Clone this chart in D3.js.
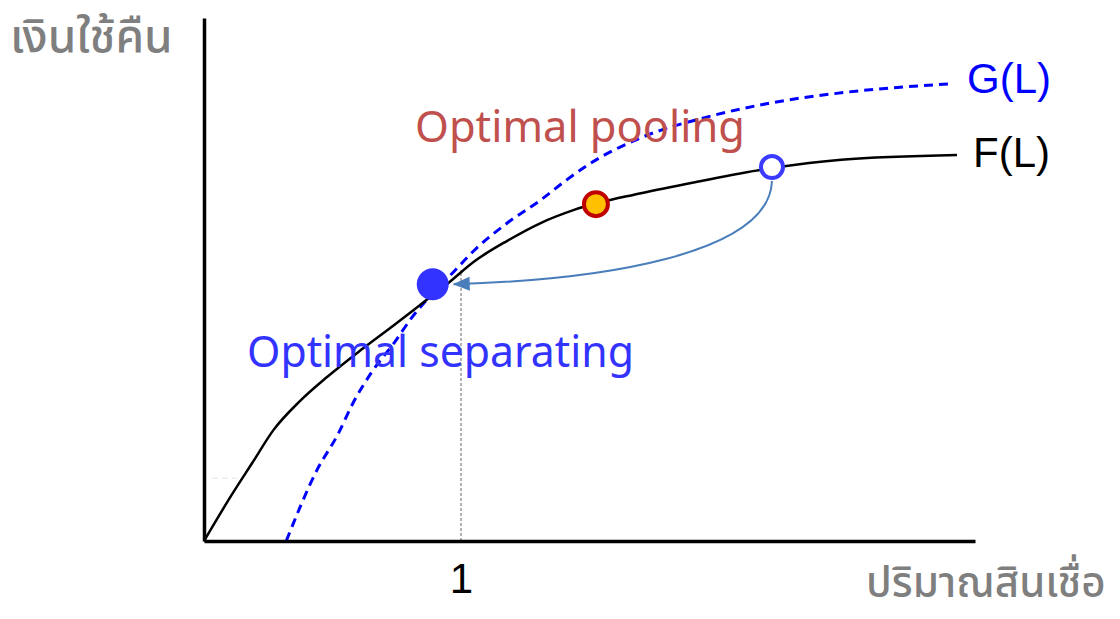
<!DOCTYPE html>
<html>
<head>
<meta charset="utf-8">
<script src="https://cdn.jsdelivr.net/npm/d3@7"></script>
<style>
  html, body { margin: 0; padding: 0; background: #fff; }
  svg { display: block; }
</style>
</head>
<body>
<svg id="chart"></svg>
<script>
// ข้อมูลเส้นโค้ง (อ่านค่าจากภาพ)
const fL = [0, 0.11, 0.19, 0.27, 0.37, 0.48, 0.61, 0.74, 0.84, 0.95, 1.05, 1.18, 1.31, 1.44, 1.70, 1.93, 2.21, 2.48, 2.93];
const fV = [0, 9.0, 15.1, 21.2, 26.6, 31.4, 36.5, 41.3, 45.1, 49.3, 53.4, 57.4, 60.8, 63.3, 66.5, 68.8, 71.3, 72.9, 73.8];

const gL = [0.32, 0.44, 0.52, 0.58, 0.65, 0.74, 0.81, 0.89, 0.97, 1.05, 1.18, 1.31, 1.41, 1.50, 1.70, 1.96, 2.21, 2.48, 2.90];
const gV = [0, 13.6, 20.3, 26.4, 32.1, 37.9, 42.8, 47.4, 51.4, 55.5, 60.8, 65.2, 69.0, 72.1, 77.1, 81.1, 83.8, 85.7, 87.4];

// จุดสำคัญ
const separating = { L: 0.89, v: 49.1 };
const pooling = { L: 1.525, v: 64.4 };
const openPoint = { L: 2.21, v: 71.5 };

// จุดควบคุมลูกศร (หน่วยข้อมูล)
const arrowCtrl = [{ L: 2.20, v: 54.7 }, { L: 1.54, v: 49.9 }];

const xTicks = [1];
const dropValue = 51.8;
const faintLine = { L: [0.03, 0.13], v: 12 };

const labels = {
  yTitle: "เงินใช้คืน",
  xTitle: "ปริมาณสินเชื่อ",
  g: "G(L)",
  f: "F(L)",
  pooling: "Optimal pooling",
  separating: "Optimal separating"
};

const width = 1120, height = 619;

const svg = d3.select("#chart")
  .attr("width", width)
  .attr("height", height);

const x = d3.scaleLinear().domain([0, 3]).range([204, 975]);
const y = d3.scaleLinear().domain([0, 100]).range([541, 18]);

const fData = fL.map((d, i) => ({ L: d, v: fV[i] }));
const gData = gL.map((d, i) => ({ L: d, v: gV[i] }));

const line = d3.line()
  .x(d => x(d.L))
  .y(d => y(d.v))
  .curve(d3.curveMonotoneX);

// เส้นประจาง ๆ ใกล้แกน Y
svg.append("line")
  .attr("x1", x(faintLine.L[0]))
  .attr("x2", x(faintLine.L[1]))
  .attr("y1", y(faintLine.v))
  .attr("y2", y(faintLine.v))
  .attr("stroke", "#e4e4e4")
  .attr("stroke-width", 1)
  .attr("stroke-dasharray", "6,4");

// เส้นประแนวตั้งที่ L = 1
svg.append("line")
  .attr("x1", x(1))
  .attr("x2", x(1))
  .attr("y1", y(0))
  .attr("y2", y(dropValue))
  .attr("stroke", "#666")
  .attr("stroke-width", 1)
  .attr("stroke-dasharray", "3,2");

// เส้น G(L)
svg.append("path")
  .datum(gData)
  .attr("d", line)
  .attr("fill", "none")
  .attr("stroke", "#0000ff")
  .attr("stroke-width", 3)
  .attr("stroke-dasharray", "9,6");

// เส้น F(L)
svg.append("path")
  .datum(fData)
  .attr("d", line)
  .attr("fill", "none")
  .attr("stroke", "#000")
  .attr("stroke-width", 2.5);

// แกน
const xAxis = svg.append("g")
  .attr("transform", `translate(0,${y(0)})`)
  .call(d3.axisBottom(x).tickValues(xTicks).tickFormat(d3.format("d")).tickSize(0).tickSizeOuter(0).tickPadding(22));
xAxis.select(".domain")
  .attr("stroke", "#000")
  .attr("stroke-width", 3.5);
xAxis.selectAll(".tick text")
  .attr("font-family", "Liberation Sans, Arial, sans-serif")
  .attr("font-size", 42)
  .attr("fill", "#000");

const yAxis = svg.append("g")
  .attr("transform", `translate(${x(0)},0)`)
  .call(d3.axisLeft(y).tickValues([]).tickSizeOuter(0));
yAxis.select(".domain")
  .attr("stroke", "#000")
  .attr("stroke-width", 3.5);

// ลูกศร
svg.append("defs").append("marker")
  .attr("id", "arrow")
  .attr("markerUnits", "userSpaceOnUse")
  .attr("viewBox", "0 -8 18 16")
  .attr("markerWidth", 18)
  .attr("markerHeight", 16)
  .attr("refX", 16)
  .attr("refY", 0)
  .attr("orient", "auto")
  .append("path")
  .attr("d", "M0,-7L17,0L0,7Z")
  .attr("fill", "#4a7ebb");

const p = d3.path();
p.moveTo(x(openPoint.L), y(openPoint.v) + 14);
p.bezierCurveTo(
  x(arrowCtrl[0].L), y(arrowCtrl[0].v),
  x(arrowCtrl[1].L), y(arrowCtrl[1].v),
  x(separating.L) + 21, y(separating.v)
);
svg.append("path")
  .attr("d", p.toString())
  .attr("fill", "none")
  .attr("stroke", "#4a7ebb")
  .attr("stroke-width", 2)
  .attr("marker-end", "url(#arrow)");

// จุด
svg.append("circle")
  .attr("cx", x(separating.L))
  .attr("cy", y(separating.v))
  .attr("r", 16)
  .attr("fill", "#3333ff");

svg.append("circle")
  .attr("cx", x(pooling.L))
  .attr("cy", y(pooling.v))
  .attr("r", 12)
  .attr("fill", "#ffc000")
  .attr("stroke", "#c00000")
  .attr("stroke-width", 4);

svg.append("circle")
  .attr("cx", x(openPoint.L))
  .attr("cy", y(openPoint.v))
  .attr("r", 11)
  .attr("fill", "#fff")
  .attr("stroke", "#3b3bff")
  .attr("stroke-width", 4);

// ข้อความ
const thaiFont = "'Noto Sans Thai', 'Noto Sans', sans-serif";

svg.append("text")
  .attr("x", 10).attr("y", 52)
  .attr("font-family", thaiFont)
  .attr("font-size", 46)
  .attr("font-weight", 500)
  .attr("fill", "#7f7f7f")
  .text(labels.yTitle);

svg.append("text")
  .attr("x", 866).attr("y", 597)
  .attr("font-family", thaiFont)
  .attr("font-size", 42)
  .attr("font-weight", 500)
  .attr("fill", "#7f7f7f")
  .text(labels.xTitle);

svg.append("text")
  .attr("x", 967).attr("y", 93)
  .attr("font-family", "Liberation Sans, Arial, sans-serif")
  .attr("font-size", 42)
  .attr("fill", "#0000ff")
  .text(labels.g);

svg.append("text")
  .attr("x", 973).attr("y", 167)
  .attr("font-family", "Liberation Sans, Arial, sans-serif")
  .attr("font-size", 42)
  .attr("fill", "#000")
  .text(labels.f);

svg.append("text")
  .attr("x", 415).attr("y", 142)
  .attr("font-family", "'Noto Sans', sans-serif")
  .attr("font-size", 44)
  .attr("textLength", 330)
  .attr("lengthAdjust", "spacingAndGlyphs")
  .attr("fill", "#c0504d")
  .text(labels.pooling);

svg.append("text")
  .attr("x", 247).attr("y", 367)
  .attr("font-family", "'Noto Sans', sans-serif")
  .attr("font-size", 44)
  .attr("textLength", 387)
  .attr("lengthAdjust", "spacingAndGlyphs")
  .attr("fill", "#3333ff")
  .text(labels.separating);
</script>
</body>
</html>
